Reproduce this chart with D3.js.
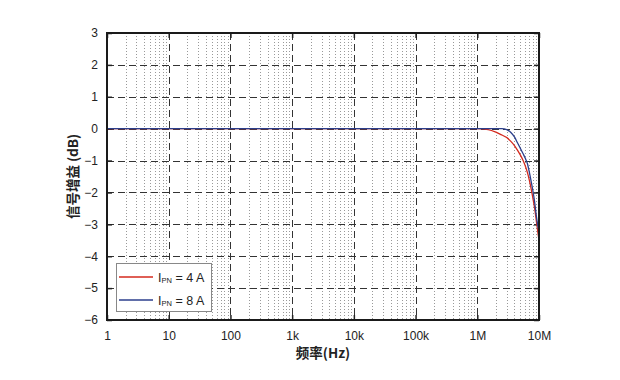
<!DOCTYPE html>
<html><head><meta charset="utf-8">
<script src="https://cdn.jsdelivr.net/npm/d3@7/dist/d3.min.js"></script>
<style>body{margin:0;background:#fff}svg{display:block}</style>
</head><body><svg id="c" width="620" height="380"></svg>
<script>
const freqs = [1, 10, 100, 1e3, 1e4, 1e5, 1e6, 1.5e6, 2e6, 2.5e6, 3e6, 3.5e6, 4e6, 4.5e6, 5e6, 5.5e6, 6e6, 6.5e6, 7e6, 7.5e6, 8e6, 8.5e6, 9e6, 9.5e6, 1e7];
const gain4A = [0, 0, 0, 0, 0, 0, 0, -0.03, -0.11, -0.2, -0.28, -0.4, -0.53, -0.68, -0.83, -0.99, -1.17, -1.38, -1.63, -1.91, -2.2, -2.5, -2.85, -3.2, -3.5];
const gain8A = [0, 0, 0, 0, 0, 0, 0, 0, 0, 0, -0.03, -0.12, -0.26, -0.45, -0.62, -0.78, -0.93, -1.1, -1.38, -1.68, -1.97, -2.3, -2.7, -3.0, -3.22];
const seriesNames = ["4 A", "8 A"];
const seriesColors = ["#d42a1e", "#2c3f8c"];
const xTickValues = [1, 10, 100, 1e3, 1e4, 1e5, 1e6, 1e7];
const xTickLabels = ["1", "10", "100", "1k", "10k", "100k", "1M", "10M"];
const yTickValues = [-6, -5, -4, -3, -2, -1, 0, 1, 2, 3];
const xTitle = "频率(Hz)";
const yTitle = "信号增益 (dB)";

const L = 107, R = 539, T = 33, B = 320;
const svg = d3.select("#c");
const x = d3.scaleLog().domain([1, 1e7]).range([L, R]);
const y = d3.scaleLinear().domain([-6, 3]).range([B, T]);
const font = "'Liberation Sans', Arial, sans-serif";

// minor vertical dotted grid
const minor = [];
for (let d = 0; d < 7; d++) for (let k = 2; k <= 9; k++) minor.push(k * Math.pow(10, d));
svg.append("g").selectAll("line").data(minor).join("line")
  .attr("x1", d => Math.round(x(d)) + 0.5).attr("x2", d => Math.round(x(d)) + 0.5)
  .attr("y1", T).attr("y2", B)
  .attr("stroke", "#999").attr("stroke-width", 1).attr("stroke-dasharray", "1,2");

// major dashed grid
svg.append("g").selectAll("line").data(xTickValues.slice(1, -1)).join("line")
  .attr("x1", d => Math.round(x(d)) + 0.5).attr("x2", d => Math.round(x(d)) + 0.5)
  .attr("y1", T).attr("y2", B)
  .attr("stroke", "#333").attr("stroke-width", 1).attr("stroke-dasharray", "7,4");
svg.append("g").selectAll("line").data(yTickValues.slice(1, -1)).join("line")
  .attr("y1", d => Math.round(y(d)) + 0.5).attr("y2", d => Math.round(y(d)) + 0.5)
  .attr("x1", L).attr("x2", R)
  .attr("stroke", "#333").attr("stroke-width", 1).attr("stroke-dasharray", "7,4");

// axes
const ax = g => { g.select(".domain").remove(); g.selectAll("line").attr("stroke", "#222").attr("stroke-width", 1.5); };
svg.append("g").attr("transform", `translate(0,${B})`)
  .call(d3.axisBottom(x).tickValues(xTickValues).tickFormat((d, i) => xTickLabels[i]).tickSizeInner(-5).tickPadding(11))
  .call(ax).selectAll("text").attr("font-family", font).attr("font-size", 12).attr("fill", "#222");
svg.append("g").attr("transform", `translate(0,${T})`)
  .call(d3.axisTop(x).tickValues(xTickValues).tickFormat("").tickSizeInner(-5)).call(ax);
svg.append("g").attr("transform", `translate(${L},0)`)
  .call(d3.axisLeft(y).tickValues(yTickValues).tickFormat(d3.format("d")).tickSizeInner(-5).tickPadding(9))
  .call(ax).selectAll("text").attr("font-family", font).attr("font-size", 12).attr("fill", "#222");
svg.append("g").attr("transform", `translate(${R},0)`)
  .call(d3.axisRight(y).tickValues(yTickValues).tickFormat("").tickSizeInner(-5)).call(ax);

// series lines
const line = d3.line().x(d => x(d[0])).y(d => y(d[1])).curve(d3.curveMonotoneX);
[gain4A, gain8A].forEach((g, i) => {
  svg.append("path").datum(freqs.map((f, j) => [f, g[j]]))
    .attr("d", line).attr("fill", "none").attr("stroke", seriesColors[i]).attr("stroke-width", 1.3);
});

// frame
svg.append("rect").attr("x", L).attr("y", T).attr("width", R - L).attr("height", B - T)
  .attr("fill", "none").attr("stroke", "#1a1a1a").attr("stroke-width", 2);

// legend
const lg = svg.append("g");
lg.append("rect").attr("x", 116.5).attr("y", 263.5).attr("width", 95).attr("height", 48)
  .attr("fill", "#fff").attr("stroke", "#888").attr("stroke-width", 1);
seriesNames.forEach((n, i) => {
  const yy = 277 + i * 23;
  lg.append("line").attr("x1", 119).attr("x2", 153).attr("y1", yy).attr("y2", yy)
    .attr("stroke", seriesColors[i]).attr("stroke-width", 1.3);
  const t = lg.append("text").attr("x", 158).attr("y", yy + 5).attr("font-family", font)
    .attr("font-size", 12.5).attr("fill", "#222");
  t.append("tspan").text("I");
  t.append("tspan").attr("font-size", 7.5).attr("dy", 1).text("PN");
  t.append("tspan").attr("dy", -1).text(" = " + n);
});

// titles
svg.append("text").attr("x", (L + R) / 2).attr("y", 358).attr("text-anchor", "middle")
  .attr("font-family", "'Noto Sans CJK SC', sans-serif").attr("font-weight", "bold")
  .attr("font-size", 13.5).attr("fill", "#222").text(xTitle);
svg.append("text").attr("transform", `translate(78,${(T + B) / 2}) rotate(-90)`).attr("text-anchor", "middle")
  .attr("font-family", "'Noto Sans CJK SC', sans-serif").attr("font-weight", "bold")
  .attr("font-size", 13.5).attr("fill", "#222").text(yTitle);
</script></body></html>
